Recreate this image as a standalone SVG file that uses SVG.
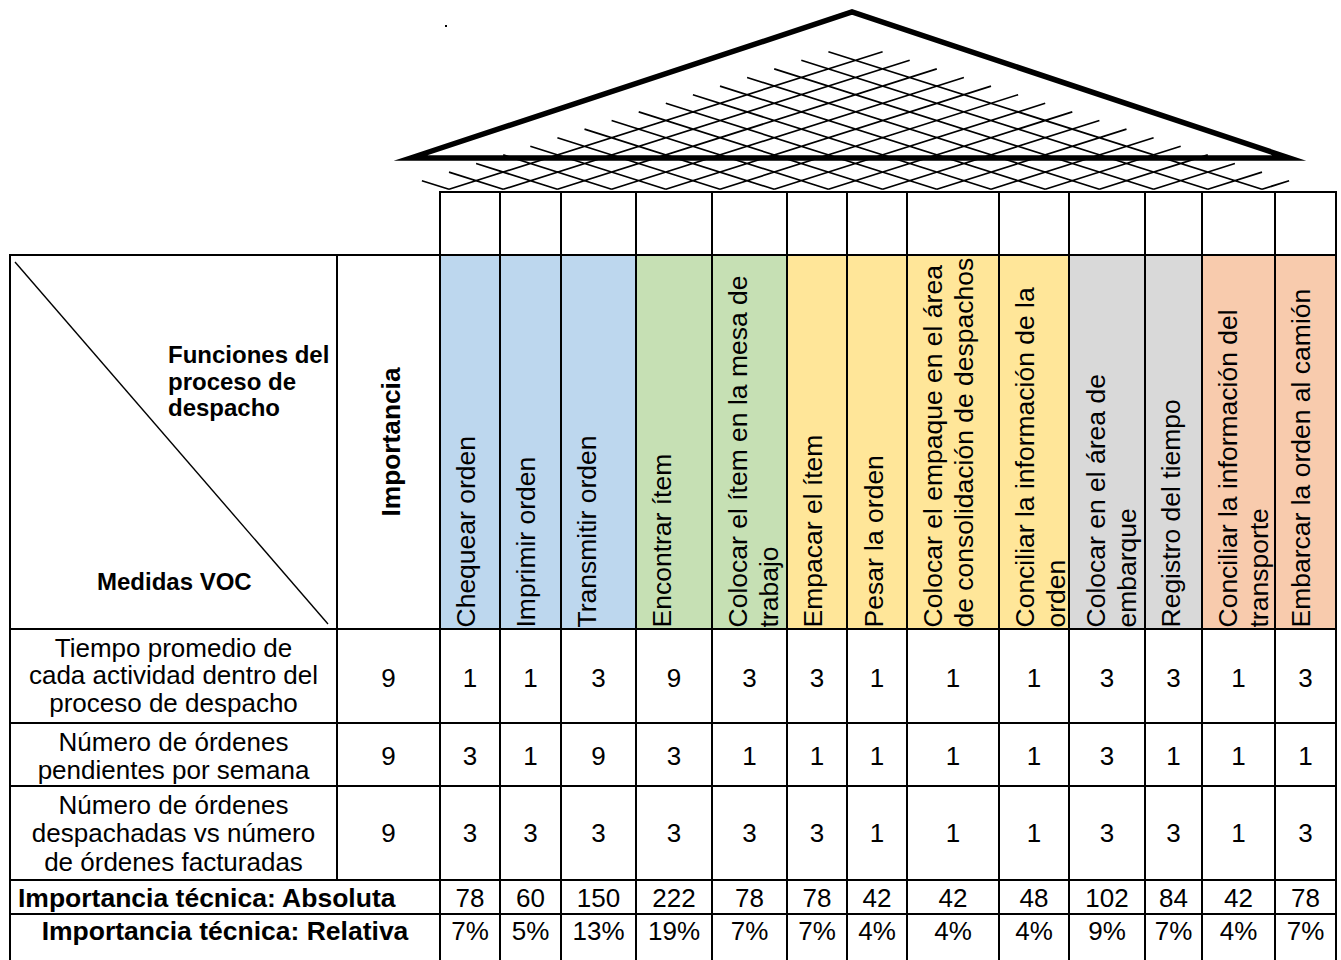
<svg xmlns="http://www.w3.org/2000/svg" width="1341" height="960" viewBox="0 0 1341 960">
  <defs>
    <style>
      .ln { stroke: #000; stroke-width: 2; fill: none; }
      .lat { stroke: #000; stroke-width: 1.7; fill: none; }
      .roof { stroke: #000; stroke-width: 5.5; fill: none; stroke-linejoin: miter; stroke-miterlimit: 14; }
      .t { font-family: "Liberation Sans", Arial, sans-serif; font-size: 26px; fill: #000; }
      .c { text-anchor: middle; }
      .h { font-family: "Liberation Sans", Arial, sans-serif; font-size: 26.5px; fill: #000; }
      .b { font-family: "Liberation Sans", Arial, sans-serif; font-weight: bold; fill: #000; }
    </style>
  </defs>
  <rect width="1341" height="960" fill="#fff"/>

  <!-- Roof of the house of quality -->
  <g id="roof">
    <path class="lat" d="
      M449,189.3 L421.9,180.7 M503.2,189.3 L449,172.1 M557.4,189.3 L476.1,163.5 M611.6,189.3 L503.2,154.9
      M665.8,189.3 L530.3,146.3 M720,189.3 L557.4,137.7 M774.2,189.3 L584.5,129.1 M828.4,189.3 L611.6,120.5
      M882.6,189.3 L638.7,111.9 M936.8,189.3 L665.8,103.3 M991,189.3 L692.9,94.7 M1045.2,189.3 L720,86.1
      M1099.4,189.3 L747.1,77.5 M1153.6,189.3 L774.2,68.9 M1207.8,189.3 L801.3,60.3 M1262,189.3 L828.4,51.7
      M449,189.3 L882.6,51.7 M503.2,189.3 L909.7,60.3 M557.4,189.3 L936.8,68.9 M611.6,189.3 L963.9,77.5
      M665.8,189.3 L991,86.1 M720,189.3 L1018.1,94.7 M774.2,189.3 L1045.2,103.3 M828.4,189.3 L1072.3,111.9
      M882.6,189.3 L1099.4,120.5 M936.8,189.3 L1126.5,129.1 M991,189.3 L1153.6,137.7 M1045.2,189.3 L1180.7,146.3
      M1099.4,189.3 L1207.8,154.9 M1153.6,189.3 L1234.9,163.5 M1207.8,189.3 L1262,172.1 M1262,189.3 L1289.1,180.7"/>
    <path class="roof" d="M410.7,158 L852,12 L1289.3,158 Z"/>
    <rect x="445" y="25" width="2" height="2" fill="#000"/>
  </g>

  <!-- Header fills by function group -->
  <g id="header-fills">
    <rect x="440" y="255" width="196" height="374" fill="#BDD7EE"/>
    <rect x="636" y="255" width="151" height="374" fill="#C6E0B4"/>
    <rect x="787" y="255" width="282" height="374" fill="#FFE699"/>
    <rect x="1069" y="255" width="133" height="374" fill="#D9D9D9"/>
    <rect x="1202" y="255" width="134" height="374" fill="#F8CBAD"/>
  </g>

  <!-- Table grid -->
  <g id="grid" class="ln">
    <line x1="440" y1="192" x2="1337" y2="192"/>
    <line x1="9" y1="255" x2="1337" y2="255"/>
    <line x1="9" y1="629" x2="1337" y2="629"/>
    <line x1="9" y1="723" x2="1337" y2="723"/>
    <line x1="9" y1="786" x2="1337" y2="786"/>
    <line x1="9" y1="880" x2="1337" y2="880"/>
    <line x1="9" y1="914" x2="1337" y2="914"/>
    <line x1="10" y1="254" x2="10" y2="960"/>
    <line x1="337" y1="254" x2="337" y2="880"/>
    <line x1="440" y1="191" x2="440" y2="960"/>
    <line x1="500" y1="191" x2="500" y2="960"/>
    <line x1="561" y1="191" x2="561" y2="960"/>
    <line x1="636" y1="191" x2="636" y2="960"/>
    <line x1="712" y1="191" x2="712" y2="960"/>
    <line x1="787" y1="191" x2="787" y2="960"/>
    <line x1="847" y1="191" x2="847" y2="960"/>
    <line x1="907" y1="191" x2="907" y2="960"/>
    <line x1="999" y1="191" x2="999" y2="960"/>
    <line x1="1069" y1="191" x2="1069" y2="960"/>
    <line x1="1145" y1="191" x2="1145" y2="960"/>
    <line x1="1202" y1="191" x2="1202" y2="960"/>
    <line x1="1275" y1="191" x2="1275" y2="960"/>
    <line x1="1336" y1="191" x2="1336" y2="960"/>
  </g>

  <!-- Corner cell -->
  <g id="corner">
    <line x1="15" y1="262" x2="328" y2="624" stroke="#000" stroke-width="1.4"/>
    <text class="b" font-size="24" x="168" y="362.5">Funciones del</text>
    <text class="b" font-size="24" x="168" y="389.5">proceso de</text>
    <text class="b" font-size="24" x="168" y="416">despacho</text>
    <text class="b" font-size="24" x="97" y="590">Medidas VOC</text>
  </g>

  <g id="importancia-header">
    <text class="b" font-size="26.3" text-anchor="middle" transform="translate(400,442) rotate(-90)">Importancia</text>
  </g>

  <!-- Function headers (rotated) -->
  <g id="functions" class="h">
    <text transform="translate(475,627.5) rotate(-90)">Chequear orden</text>
    <text transform="translate(535,627.5) rotate(-90)">Imprimir orden</text>
    <text transform="translate(596,627.5) rotate(-90)">Transmitir orden</text>
    <text transform="translate(671,627.5) rotate(-90)">Encontrar ítem</text>
    <text transform="translate(747,627.5) rotate(-90)"><tspan x="0" y="0">Colocar el ítem en la mesa de</tspan><tspan x="0" y="31">trabajo</tspan></text>
    <text transform="translate(822,627.5) rotate(-90)">Empacar el ítem</text>
    <text transform="translate(882.5,627.5) rotate(-90)">Pesar la orden</text>
    <text transform="translate(942,627.5) rotate(-90)"><tspan x="0" y="0">Colocar el empaque en el área</tspan><tspan x="0" y="31">de consolidación de despachos</tspan></text>
    <text transform="translate(1034,627.5) rotate(-90)"><tspan x="0" y="0">Conciliar la información de la</tspan><tspan x="0" y="31">orden</tspan></text>
    <text transform="translate(1105,627.5) rotate(-90)"><tspan x="0" y="0">Colocar en el área de</tspan><tspan x="0" y="31">embarque</tspan></text>
    <text transform="translate(1180,627.5) rotate(-90)">Registro del tiempo</text>
    <text transform="translate(1237,627.5) rotate(-90)"><tspan x="0" y="0">Conciliar la información del</tspan><tspan x="0" y="31">transporte</tspan></text>
    <text transform="translate(1310,627.5) rotate(-90)">Embarcar la orden al camión</text>
  </g>

  <!-- VOC measures -->
  <g id="measures" class="t c">
    <text x="173.5" y="656.5">Tiempo promedio de</text>
    <text x="173.5" y="684">cada actividad dentro del</text>
    <text x="173.5" y="711.5">proceso de despacho</text>
    <text x="173.5" y="751">Número de órdenes</text>
    <text x="173.5" y="778.5">pendientes por semana</text>
    <text x="173.5" y="814">Número de órdenes</text>
    <text x="173.5" y="842">despachadas vs número</text>
    <text x="173.5" y="870.5">de órdenes facturadas</text>
  </g>

  <!-- Importance weights -->
  <g id="weights" class="t c">
    <text x="388.5" y="687">9</text>
    <text x="388.5" y="765">9</text>
    <text x="388.5" y="842">9</text>
  </g>

  <!-- Relationship matrix -->
  <g id="matrix" class="t c">
    <text x="470" y="687">1</text><text x="530.5" y="687">1</text><text x="598.5" y="687">3</text><text x="674" y="687">9</text>
    <text x="749.5" y="687">3</text><text x="817" y="687">3</text><text x="877" y="687">1</text><text x="953" y="687">1</text>
    <text x="1034" y="687">1</text><text x="1107" y="687">3</text><text x="1173.5" y="687">3</text><text x="1238.5" y="687">1</text>
    <text x="1305.5" y="687">3</text>

    <text x="470" y="765">3</text><text x="530.5" y="765">1</text><text x="598.5" y="765">9</text><text x="674" y="765">3</text>
    <text x="749.5" y="765">1</text><text x="817" y="765">1</text><text x="877" y="765">1</text><text x="953" y="765">1</text>
    <text x="1034" y="765">1</text><text x="1107" y="765">3</text><text x="1173.5" y="765">1</text><text x="1238.5" y="765">1</text>
    <text x="1305.5" y="765">1</text>

    <text x="470" y="842">3</text><text x="530.5" y="842">3</text><text x="598.5" y="842">3</text><text x="674" y="842">3</text>
    <text x="749.5" y="842">3</text><text x="817" y="842">3</text><text x="877" y="842">1</text><text x="953" y="842">1</text>
    <text x="1034" y="842">1</text><text x="1107" y="842">3</text><text x="1173.5" y="842">3</text><text x="1238.5" y="842">1</text>
    <text x="1305.5" y="842">3</text>
  </g>

  <!-- Technical importance rows -->
  <g id="technical-importance">
    <text class="b" font-size="26.5" x="18" y="907">Importancia técnica: Absoluta</text>
    <text class="b" font-size="26.5" x="225" y="939.5" text-anchor="middle">Importancia técnica: Relativa</text>
    <g class="t c">
      <text x="470" y="907">78</text><text x="530.5" y="907">60</text><text x="598.5" y="907">150</text><text x="674" y="907">222</text>
      <text x="749.5" y="907">78</text><text x="817" y="907">78</text><text x="877" y="907">42</text><text x="953" y="907">42</text>
      <text x="1034" y="907">48</text><text x="1107" y="907">102</text><text x="1173.5" y="907">84</text><text x="1238.5" y="907">42</text>
      <text x="1305.5" y="907">78</text>

      <text x="470" y="939.5">7%</text><text x="530.5" y="939.5">5%</text><text x="598.5" y="939.5">13%</text><text x="674" y="939.5">19%</text>
      <text x="749.5" y="939.5">7%</text><text x="817" y="939.5">7%</text><text x="877" y="939.5">4%</text><text x="953" y="939.5">4%</text>
      <text x="1034" y="939.5">4%</text><text x="1107" y="939.5">9%</text><text x="1173.5" y="939.5">7%</text><text x="1238.5" y="939.5">4%</text>
      <text x="1305.5" y="939.5">7%</text>
    </g>
  </g>
</svg>
